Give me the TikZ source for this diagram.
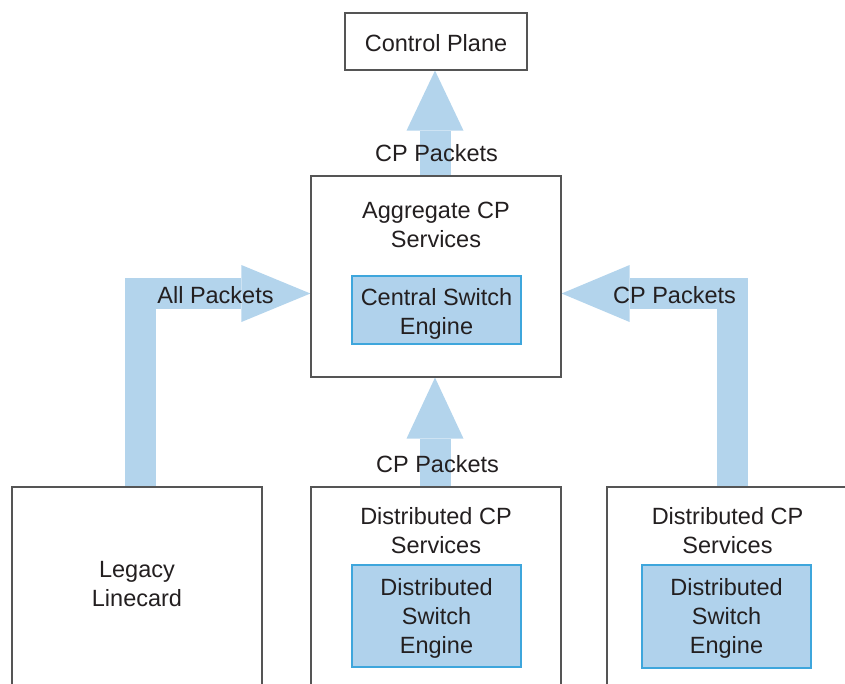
\documentclass[tikz,border=0pt]{standalone}
\usepackage{fontspec}
\setmainfont{Liberation Sans}
\usetikzlibrary{arrows.meta,calc,backgrounds}
\definecolor{flow}{HTML}{B3D4EC}
\definecolor{engfill}{HTML}{B0D2EC}
\definecolor{engline}{HTML}{3EA6DC}
\definecolor{boxline}{HTML}{555555}
\definecolor{ink}{HTML}{231F20}
\begin{document}
\begin{tikzpicture}[x=1pt,y=-1pt,
  font=\fontsize{23.5}{29}\selectfont,
  every node/.style={text=ink},
  box/.style={draw=boxline, line width=1.2pt, fill=white, inner sep=0pt},
  engine/.style={draw=engline, line width=1.2pt, fill=engfill, inner sep=0pt},
  caption/.style={align=center, inner sep=0pt},
  flowline/.style={draw=flow, line width=31pt, line join=miter},
  bigtip/.style={-{Triangle[width=57pt,length=#1,line width=0pt]}}]
\useasboundingbox (0,0) rectangle (845,683);
\clip (0,0) rectangle (845,683);

% boxes
\node[box, minimum width=182pt, minimum height=57pt] (cp) at (436,41.5) {};
\node[caption] (cpt) at (436,43.5) {Control Plane};

\node[box, minimum width=250pt, minimum height=201pt] (agg) at (436,276.5) {};
\node[caption] (aggt) at (436,225) {Aggregate CP\\Services};
\node[engine, minimum width=169pt, minimum height=68pt] (cse) at (436.5,310) {};
\node[caption] (cset) at (436.5,313.5) {Central Switch\\Engine};

\node[box, minimum width=250pt, minimum height=213pt] (legacy) at (137,593.5) {};
\node[caption] (legt) at (137,584.5) {Legacy\\Linecard};

\node[box, minimum width=250pt, minimum height=213pt] (dmid) at (436,593.5) {};
\node[caption] (dmidt) at (436,531) {Distributed CP\\Services};
\node[engine, minimum width=169pt, minimum height=102pt] (dse1) at (436.5,616) {};
\node[caption] (dse1t) at (436.5,618.5) {Distributed\\Switch\\Engine};

\node[box, minimum width=242pt, minimum height=213pt] (dright) at (728,593.5) {};
\node[caption] (drightt) at (727.5,531) {Distributed CP\\Services};
\node[engine, minimum width=169pt, minimum height=103pt] (dse2) at (726.5,616.5) {};
\node[caption] (dse2t) at (726.5,618.5) {Distributed\\Switch\\Engine};

% guide coordinates for the bent flows
\coordinate (ay) at (0,293.5);
\coordinate (lx) at (140,0);
\coordinate (rx) at (732.5,0);

% packet flows
\begin{scope}[on background layer]
  \draw[flowline, bigtip=60pt] ($(agg.north)+(-1,0)$) -- ($(cp.south)+(-1,0)$);
  \draw[flowline, bigtip=61pt] ($(dmid.north)+(-1,0)$) -- ($(agg.south)+(-1,0)$);
  \draw[flowline, bigtip=69pt] (legacy.north -| lx) |- (agg.west |- ay);
  \draw[flowline, bigtip=68pt] (dright.north -| rx) |- (agg.east |- ay);
\end{scope}

% flow labels
\node[caption] (l1) at (436.5,153) {CP Packets};
\node[caption] (l2) at (437.5,464) {CP Packets};
\node[caption] (l3) at (215.5,295) {All Packets};
\node[caption] (l4) at (674.5,295) {CP Packets};
\end{tikzpicture}
\end{document}
